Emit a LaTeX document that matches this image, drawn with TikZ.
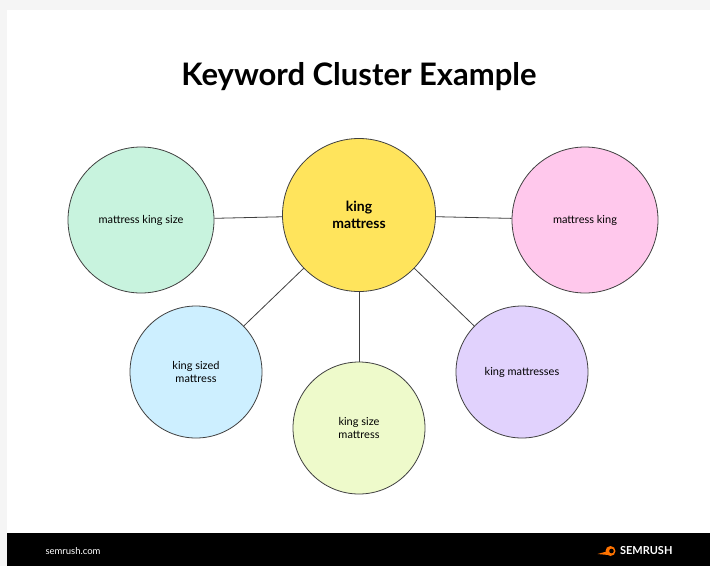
\documentclass[tikz,border=0pt]{standalone}
\usepackage{fontspec}
\setmainfont{Lato}
\begin{document}
\begin{tikzpicture}[x=1pt,y=-1pt,
  bub/.style={circle,draw=black!75,line width=0.8pt,minimum size=#1,inner sep=0pt,align=center,font=\fontsize{11}{13}\selectfont},
  link/.style={draw=black!75,line width=0.8pt}]
\fill[black!4] (0,0) rectangle (710,566);
\fill[white] (7,10) rectangle (710,533);
\fill[black] (7,533) rectangle (710,566);
\useasboundingbox (0,0) rectangle (710,566);
\definecolor{cy}{HTML}{FFE45C}\definecolor{cg}{HTML}{C8F3DE}\definecolor{cp}{HTML}{FFC8EC}
\definecolor{cb}{HTML}{CDEFFF}\definecolor{cl}{HTML}{EEFACB}\definecolor{cv}{HTML}{E1D2FD}
\node (title) at (359,77) {\fontsize{31}{36}\selectfont\bfseries Keyword Cluster Example};
\node[bub=153pt,fill=cy,font=\fontsize{14}{17}\selectfont\bfseries] (c) at (359,215) {king\\mattress};
\node[bub=146pt,fill=cg] (a) at (141,220) {mattress king size};
\node[bub=146pt,fill=cp] (b) at (585,220) {mattress king};
\node[bub=132pt,fill=cb] (d) at (196,372) {king sized\\mattress};
\node[bub=132pt,fill=cl] (e) at (359,428) {king size\\mattress};
\node[bub=132pt,fill=cv] (f) at (522,372) {king mattresses};
\draw[link] (c) -- (a); \draw[link] (c) -- (b); \draw[link] (c) -- (d);
\draw[link] (c) -- (e); \draw[link] (c) -- (f);
\node[white,anchor=west,font=\fontsize{9.5}{11}\selectfont] (site) at (42,551) {semrush.com};
\node[white,anchor=east,font=\fontsize{11}{13}\selectfont\bfseries] (logo) at (676,551) {SEMRUSH};
\fill[orange!90!red] ([xshift=-6pt]logo.west) circle (5pt);
\fill[black] ([xshift=-5pt]logo.west) circle (2.3pt);
\fill[orange!90!red] ([xshift=-19pt,yshift=-3pt]logo.west) -- ([xshift=-8pt,yshift=-4pt]logo.west) -- ([xshift=-8pt,yshift=0pt]logo.west) -- cycle;
\end{tikzpicture}
\end{document}
